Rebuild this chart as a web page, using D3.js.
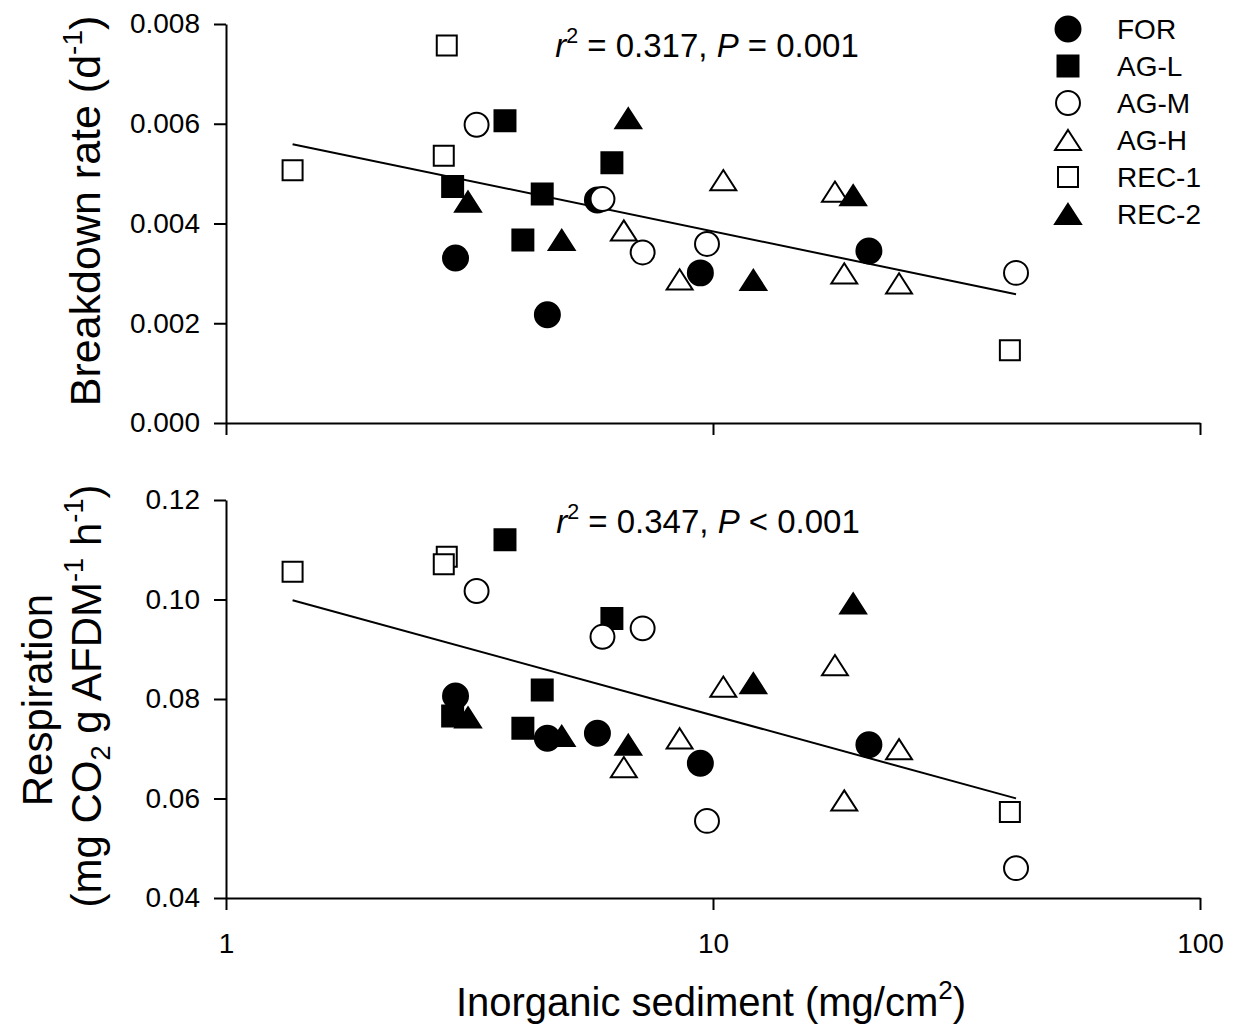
<!DOCTYPE html>
<html>
<head>
<meta charset="utf-8">
<script src="https://cdn.jsdelivr.net/npm/d3@7"></script>
<style>
  body { margin: 0; background: #fff; }
  svg { display: block; font-family: "Liberation Sans", Arial, sans-serif; }
</style>
</head>
<body>
<svg id="chart" width="1233" height="1032"></svg>
<script>
// site groups, in drawing order
const groups = ["FOR", "AG-L", "AG-M", "AG-H", "REC-1", "REC-2"];

// one entry per site
const siteGroup = [
  "FOR", "FOR", "FOR", "FOR", "FOR",
  "AG-L", "AG-L", "AG-L", "AG-L", "AG-L",
  "AG-M", "AG-M", "AG-M", "AG-M", "AG-M",
  "AG-H", "AG-H", "AG-H", "AG-H", "AG-H", "AG-H",
  "REC-1", "REC-1", "REC-1", "REC-1",
  "REC-2", "REC-2", "REC-2", "REC-2", "REC-2"
];
// inorganic sediment (mg/cm2)
const sediment = [
  2.96, 4.57, 5.79, 9.42, 20.9,
  2.92, 3.74, 4.07, 4.46, 6.20,
  3.27, 5.93, 7.17, 9.72, 41.9,
  6.56, 8.54, 10.5, 17.8, 18.6, 24.1,
  1.37, 2.84, 2.80, 40.7,
  3.14, 4.89, 6.70, 12.1, 19.4
];
// breakdown rate (1/d)
const breakdown = [
  0.00331, 0.00217, 0.00447, 0.00301, 0.00345,
  0.00474, 0.00606, 0.00367, 0.00459, 0.00522,
  0.00598, 0.00449, 0.00342, 0.00359, 0.00301,
  0.00386, 0.00288, 0.00487, 0.00464, 0.00300, 0.00280,
  0.00507, 0.00757, 0.00536, 0.00146,
  0.00444, 0.00367, 0.00611, 0.00287, 0.00457
];
// respiration (mg CO2 / g AFDM / h)
const respiration = [
  0.0806, 0.0721, 0.0731, 0.0671, 0.0708,
  0.0766, 0.1120, 0.0741, 0.0818, 0.0962,
  0.1017, 0.0925, 0.0942, 0.0555, 0.0460,
  0.0663, 0.0721, 0.0825, 0.0868, 0.0596, 0.0699,
  0.1056, 0.1086, 0.1071, 0.0573,
  0.0763, 0.0726, 0.0708, 0.0832, 0.0992
];

// regression y = a + b*log10(x)
const fitBreakdown = [0.005868, -0.002026];
const fitRespiration = [0.10351, -0.02681];

const xTicks = [1, 10, 100];
const breakdownTicks = [0, 0.002, 0.004, 0.006, 0.008];
const respirationTicks = [0.04, 0.06, 0.08, 0.10, 0.12];

const svg = d3.select("#chart");

const x = d3.scaleLog().domain([1, 100]).range([226, 1200]);
const yTop = d3.scaleLinear().domain([0, 0.008]).range([423, 24]);
const yBot = d3.scaleLinear().domain([0.04, 0.12]).range([898, 500]);

// triangle centred on its bounding box
const triangle = {
  draw(ctx, size) {
    const w = Math.sqrt(size * 4 / Math.sqrt(3));
    const h = w * Math.sqrt(3) / 2 * 0.9;
    ctx.moveTo(0, -h / 2);
    ctx.lineTo(w / 2, h / 2);
    ctx.lineTo(-w / 2, h / 2);
    ctx.closePath();
  }
};

const markStyle = {
  "FOR":   {type: d3.symbolCircle, size: 490, fill: "#000"},
  "AG-L":  {type: d3.symbolSquare, size: 440, fill: "#000"},
  "AG-M":  {type: d3.symbolCircle, size: 450, fill: "#fff"},
  "AG-H":  {type: triangle,        size: 290, fill: "#fff"},
  "REC-1": {type: d3.symbolSquare, size: 400, fill: "#fff"},
  "REC-2": {type: triangle,        size: 290, fill: "#000"}
};

function addRich(text, parts, fs) {
  let shift = 0;
  parts.forEach(([t, kind]) => {
    const ts = text.append("tspan").text(t);
    let target = 0;
    if (kind === "sup") { target = -0.42 * fs; ts.attr("font-size", fs * 0.65); }
    else if (kind === "sub") { target = 0.22 * fs; ts.attr("font-size", fs * 0.65); }
    else if (kind === "i") ts.attr("font-style", "italic");
    ts.attr("dy", target - shift);
    shift = target;
  });
}

function styleAxis(g) {
  g.select(".domain").attr("stroke-width", 2);
  g.selectAll(".tick line").attr("stroke-width", 2);
  g.selectAll(".tick text").attr("font-size", 28).attr("fill", "#000")
    .attr("font-family", '"Liberation Sans", Arial, sans-serif');
}

function drawPanel(yScale, yValues, yTicks, fmt, fit, showXLabels) {
  const g = svg.append("g");

  g.append("g")
    .attr("transform", `translate(0,${yScale.range()[0]})`)
    .call(d3.axisBottom(x).tickValues(xTicks)
      .tickFormat(showXLabels ? d3.format("d") : "")
      .tickSize(12).tickSizeOuter(0).tickPadding(23))
    .call(styleAxis);

  g.append("g")
    .attr("transform", `translate(${x(1)},0)`)
    .call(d3.axisLeft(yScale).tickValues(yTicks).tickFormat(d3.format(fmt))
      .tickSize(12).tickSizeOuter(0).tickPadding(14))
    .call(styleAxis);

  // regression line over the range of the data
  const [xmin, xmax] = d3.extent(sediment);
  g.append("path")
    .attr("d", d3.line()([xmin, xmax].map(v => [x(v), yScale(fit[0] + fit[1] * Math.log10(v))])))
    .attr("stroke", "#000").attr("stroke-width", 2).attr("fill", "none");

  const pts = sediment.map((s, i) => ({x: s, y: yValues[i], group: siteGroup[i]}));
  groups.forEach(gr => {
    const st = markStyle[gr];
    g.selectAll(null)
      .data(pts.filter(p => p.group === gr))
      .enter().append("path")
        .attr("transform", d => `translate(${x(d.x)},${yScale(d.y)})`)
        .attr("d", d3.symbol().type(st.type).size(st.size))
        .attr("fill", st.fill)
        .attr("stroke", "#000")
        .attr("stroke-width", 2);
  });
  return g;
}

drawPanel(yTop, breakdown, breakdownTicks, ".3f", fitBreakdown, false);
drawPanel(yBot, respiration, respirationTicks, ".2f", fitRespiration, true);

// statistics
const statTop = svg.append("text").attr("x", 707).attr("y", 57)
  .attr("text-anchor", "middle").attr("font-size", 33);
addRich(statTop, [["r", "i"], ["2", "sup"], [" = 0.317, ", ""], ["P", "i"], [" = 0.001", ""]], 33);

const statBot = svg.append("text").attr("x", 708).attr("y", 533)
  .attr("text-anchor", "middle").attr("font-size", 33);
addRich(statBot, [["r", "i"], ["2", "sup"], [" = 0.347, ", ""], ["P", "i"], [" < 0.001", ""]], 33);

// axis titles
const xt = svg.append("text").attr("x", 711).attr("y", 1016)
  .attr("text-anchor", "middle").attr("font-size", 40);
addRich(xt, [["Inorganic sediment (mg/cm", ""], ["2", "sup"], [")", ""]], 40);

const yt1 = svg.append("text").attr("transform", "translate(100,211) rotate(-90)")
  .attr("text-anchor", "middle").attr("font-size", 43);
addRich(yt1, [["Breakdown rate (d", ""], ["-1", "sup"], [")", ""]], 43);

svg.append("text").attr("transform", "translate(52,700) rotate(-90)")
  .attr("text-anchor", "middle").attr("font-size", 42).text("Respiration");
const yt2b = svg.append("text").attr("transform", "translate(101,696) rotate(-90)")
  .attr("text-anchor", "middle").attr("font-size", 42);
addRich(yt2b, [["(mg CO", ""], ["2", "sub"], [" g AFDM", ""], ["-1", "sup"], [" h", ""], ["-1", "sup"], [")", ""]], 42);

// legend
const legend = svg.append("g");
groups.forEach((gr, i) => {
  const st = markStyle[gr];
  const cy = 29 + i * 37;
  legend.append("path")
    .attr("transform", `translate(1068,${cy})`)
    .attr("d", d3.symbol().type(st.type).size(st.size))
    .attr("fill", st.fill).attr("stroke", "#000").attr("stroke-width", 2);
  legend.append("text")
    .attr("x", 1117).attr("y", cy).attr("dy", "0.36em")
    .attr("font-size", 28).text(gr);
});
</script>
</body>
</html>
